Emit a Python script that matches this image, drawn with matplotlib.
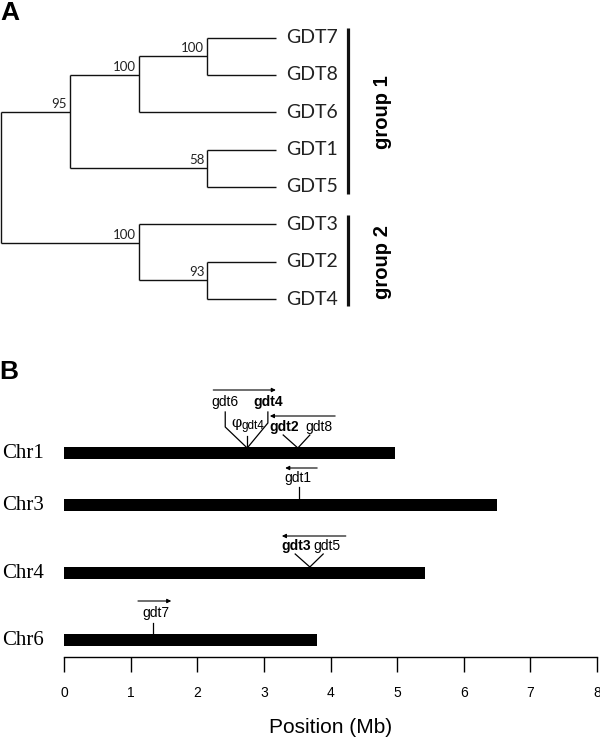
import matplotlib
matplotlib.use("Agg")
import matplotlib.pyplot as plt

# ---- panel A: tree (levels = nodes from root, y = leaf index) ----
leaves = ["GDT7", "GDT8", "GDT6", "GDT1", "GDT5", "GDT3", "GDT2", "GDT4"]
# internal nodes: name -> (level, y, children, bootstrap)
nodes = {
    "n78":   (3, 0.5, ["GDT7", "GDT8"], "100"),
    "n786":  (2, 1.0, ["n78", "GDT6"], "100"),
    "n15":   (3, 3.5, ["GDT1", "GDT5"], "58"),
    "g1":    (1, 2.0, ["n786", "n15"], "95"),
    "n24":   (3, 6.5, ["GDT2", "GDT4"], "93"),
    "g2":    (2, 5.5, ["GDT3", "n24"], "100"),
    "root":  (0, 3.75, ["g1", "g2"], ""),
}
leaf_level = 4
groups = ["group 1", "group 2"]
group_leaves = [(0, 4), (5, 7)]

# ---- panel B: chromosomes (Mb) ----
chrom_names = ["Chr1", "Chr3", "Chr4", "Chr6"]
chrom_len = [4.97, 6.50, 5.42, 3.80]
xticks = [0, 1, 2, 3, 4, 5, 6, 7, 8]

BLACK = "#111111"
SANS = "Liberation Sans"

fig = plt.figure(figsize=(6.0, 7.39), dpi=100)

# ---------------- A ----------------
axA = fig.add_axes([0, 1 - 360 / 739, 1, 360 / 739])
px_lvl, px_leaf = 68.75, 37.36
x0 = -1 / px_lvl
axA.set_xlim(x0, x0 + 600 / px_lvl)
y0 = -37.5 / px_leaf
axA.set_ylim(y0 + 360 / px_leaf, y0)
axA.axis("off")


def pos(name):
    if name in leaves:
        return leaf_level, leaves.index(name)
    lv, y, _, _ = nodes[name]
    return lv, y


for name, (lv, y, kids, bs) in nodes.items():
    ys = [pos(k)[1] for k in kids]
    axA.plot([lv, lv], [min(ys), max(ys)], color=BLACK, lw=1.0, solid_capstyle="butt")
    for k in kids:
        kl, ky = pos(k)
        axA.plot([lv, kl], [ky, ky], color=BLACK, lw=1.0, solid_capstyle="butt")
    if bs:
        axA.text(lv - 3 / px_lvl, y - 2 / px_leaf, bs, ha="right", va="bottom",
                 fontsize=9.5, family="Lato", color="#222222")

for i, lab in enumerate(leaves):
    axA.text(leaf_level + 10 / px_lvl, i, lab, ha="left", va="center",
             fontsize=14, family="Lato", color="#222222")

bar_x = leaf_level + 72 / px_lvl
txt_x = leaf_level + 106 / px_lvl
for g, (a, b) in zip(groups, group_leaves):
    axA.plot([bar_x, bar_x], [a - 0.25, b + 0.2], color=BLACK, lw=2.3,
             solid_capstyle="butt")
    axA.text(txt_x, (a + b) / 2, g, rotation=90, ha="center", va="center",
             fontsize=14.5, family=SANS, fontweight="bold")

fig.text(10 / 600, 1 - 13 / 739, "A", ha="center", va="center", fontsize=19,
         family=SANS, fontweight="bold")
fig.text(9 / 600, 1 - 372 / 739, "B", ha="center", va="center", fontsize=19,
         family=SANS, fontweight="bold")

# ---------------- B ----------------
axB = fig.add_axes([0, 0, 1, 379 / 739])
px_mb = 66.625
xa = -64 / px_mb
axB.set_xlim(xa, xa + 600 / px_mb)
axB.set_ylim(739, 360)
for s in ["top", "left", "right"]:
    axB.spines[s].set_visible(False)
axB.spines["bottom"].set_position(("data", 657))
axB.spines["bottom"].set_bounds(0, 8)
axB.spines["bottom"].set_linewidth(1.0)
axB.set_yticks([])
axB.set_xticks(xticks)
axB.set_xticklabels([str(t) for t in xticks], family=SANS, fontsize=10)
axB.tick_params(axis="x", direction="out", length=11, width=1.0, pad=10)
axB.text(4, 727, "Position (Mb)", ha="center", va="center", fontsize=15, family=SANS)

row_y = [453, 505, 573, 640]
for name, L, y in zip(chrom_names, chrom_len, row_y):
    axB.barh(y, L, height=11.5, left=0, color="black")
    axB.text(xa + 2 / px_mb, y, name, ha="left", va="center", fontsize=15,
             family="Liberation Serif")


def arrow(x_tail, x_head, y):
    axB.annotate("", xy=(x_head, y), xytext=(x_tail, y),
                 arrowprops=dict(arrowstyle="-|>", lw=0.8, color="black",
                                 mutation_scale=6, shrinkA=0, shrinkB=0))


def lbl(x, y, s, bold=False, size=10):
    axB.text(x, y, s, ha="center", va="center", fontsize=size, family=SANS,
             fontweight="bold" if bold else "normal")


def seg(xs, ys):
    axB.plot(xs, ys, color="black", lw=0.9)


# Chr1, cluster gdt6 / psi-gdt4 / gdt4
arrow(2.24, 3.18, 390)
lbl(2.41, 402, "gdt6")
lbl(3.06, 402, "gdt4", bold=True)
seg([2.42, 2.42, 2.75], [412, 427, 448])
seg([3.06, 3.06, 2.75], [412, 423, 448])
seg([2.75, 2.75], [436, 448])
axB.text(2.66, 423, "φ", ha="right", va="center", fontsize=10.5, family="DejaVu Serif")
axB.text(2.67, 426, "gdt4", ha="left", va="center", fontsize=8.5, family=SANS)

# Chr1, cluster gdt2 / gdt8
arrow(4.07, 3.09, 416)
lbl(3.31, 427, "gdt2", bold=True)
lbl(3.83, 427, "gdt8")
seg([3.29, 3.51, 3.69], [435, 448, 435])

# Chr3, gdt1
arrow(3.80, 3.32, 468)
lbl(3.51, 478, "gdt1")
seg([3.53, 3.53], [487, 500])

# Chr4, gdt3 / gdt5
arrow(4.23, 3.27, 536)
lbl(3.48, 546, "gdt3", bold=True)
lbl(3.95, 546, "gdt5")
seg([3.47, 3.69, 3.89], [554, 567, 554])

# Chr6, gdt7
arrow(1.11, 1.61, 601)
lbl(1.38, 613, "gdt7")
seg([1.34, 1.34], [623, 634])

fig.savefig("out.png", dpi=100)
